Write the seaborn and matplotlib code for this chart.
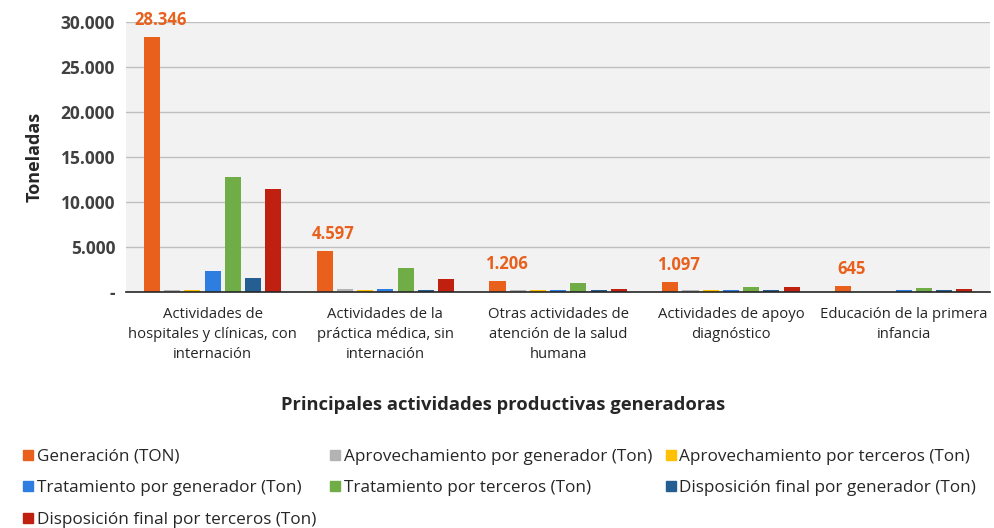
import numpy as np
import pandas as pd
import matplotlib
matplotlib.use("Agg")
import matplotlib.pyplot as plt
import seaborn as sns
from matplotlib.ticker import FuncFormatter
from matplotlib.lines import Line2D

categories = [
    "Actividades de\nhospitales y clínicas, con\ninternación",
    "Actividades de la\npráctica médica, sin\ninternación",
    "Otras actividades de\natención de la salud\nhumana",
    "Actividades de apoyo\ndiagnóstico",
    "Educación de la primera\ninfancia",
]
series = [
    "Generación (TON)",
    "Aprovechamiento por generador (Ton)",
    "Aprovechamiento por terceros (Ton)",
    "Tratamiento por generador (Ton)",
    "Tratamiento por terceros (Ton)",
    "Disposición final por generador (Ton)",
    "Disposición final por terceros (Ton)",
]
generacion = [28346, 4597, 1206, 1097, 645]
aprov_generador = [220, 330, 200, 180, 0]
aprov_terceros = [200, 200, 180, 170, 0]
trat_generador = [2300, 300, 200, 200, 200]
trat_terceros = [12800, 2650, 950, 550, 400]
disp_generador = [1500, 220, 200, 200, 200]
disp_terceros = [11500, 1400, 300, 500, 300]
colors = ["#E8601C", "#B3B3B3", "#FFC000", "#2E7DE0", "#70AD47", "#255E91", "#C0200F"]

values = [generacion, aprov_generador, aprov_terceros, trat_generador,
          trat_terceros, disp_generador, disp_terceros]
rows = []
for s, vals in zip(series, values):
    for c, v in zip(categories, vals):
        rows.append({"cat": c, "serie": s, "val": v})
df = pd.DataFrame(rows)

sns.set_style("white")
plt.rcParams["font.family"] = ["Open Sans", "DejaVu Sans"]

fig = plt.figure(figsize=(9.94, 5.28), dpi=100)
ax = fig.add_axes([0.127, 0.447, 0.869, 0.511])
ax.set_facecolor("#F2F2F2")

sns.barplot(data=df, x="cat", y="val", hue="serie", hue_order=series,
            order=categories, palette=colors, width=0.82, gap=0.2,
            ax=ax, legend=False, saturation=1, edgecolor="none")

ax.set_ylim(0, 30000)
ax.set_xlim(-0.5, 4.5)
ax.set_yticks(np.arange(0, 30001, 5000))
ax.yaxis.set_major_formatter(FuncFormatter(
    lambda v, p: "-" if v == 0 else f"{int(v):,}".replace(",", ".")))
ax.grid(axis="y", color="#BFBFBF", linewidth=1)
ax.set_axisbelow(True)
for sp in ["top", "right", "left"]:
    ax.spines[sp].set_visible(False)
ax.spines["bottom"].set_color("#262626")
ax.spines["bottom"].set_linewidth(1.2)
ax.tick_params(axis="y", length=0, pad=8, labelsize=12.5, labelcolor="#404040")
ax.tick_params(axis="x", length=0, pad=11, labelsize=10.7, labelcolor="#262626")
for t in ax.get_yticklabels():
    t.set_fontweight("bold")
for t in ax.get_xticklabels():
    t.set_linespacing(1.45)
ax.set_ylabel("Toneladas", fontsize=13, fontweight="bold", color="#262626", labelpad=12)
ax.set_xlabel("")
fig.text(0.506, 1 - 405 / 528, "Principales actividades productivas generadoras",
         ha="center", va="center", fontsize=13.2, fontweight="bold", color="#262626")

# data labels on Generación bars
gen_container = ax.containers[0]
labels = [f"{v:,}".replace(",", ".") for v in generacion]
for bar, lab in zip(gen_container, labels):
    ax.text(bar.get_x() + bar.get_width() / 2 + 0.05, bar.get_height() + 900, lab,
            ha="center", va="bottom", color="#E8601C", fontsize=12,
            fontweight="bold", clip_on=False)

handles = [Line2D([0], [0], marker="s", linestyle="none", markersize=7,
                  markerfacecolor=c, markeredgecolor=c) for c in colors]
order = [0, 3, 6, 1, 4, 2, 5]
leg = fig.legend([handles[i] for i in order], [series[i] for i in order],
                 loc="upper left", bbox_to_anchor=(0.02, 0.15), ncol=3,
                 frameon=False, fontsize=12.3, handletextpad=0.0,
                 columnspacing=0.6, labelspacing=0.9, handlelength=1.0,
                 borderaxespad=0, borderpad=0)
for t in leg.get_texts():
    t.set_color("#262626")

fig.savefig("out.png", dpi=100)
